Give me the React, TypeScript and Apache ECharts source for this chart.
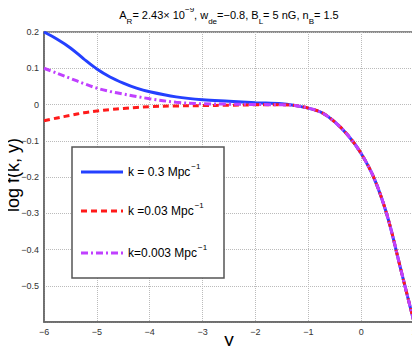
import React, { useEffect, useRef } from "react";
import * as echarts from "echarts";

const xs = [-6, -5.75, -5.5, -5.25, -5, -4.75, -4.5, -4.25, -4, -3.5, -3, -2.5, -2, -1.5, -1.25, -1, -0.75, -0.5, -0.25, 0, 0.25, 0.5, 0.75, 1];
const k03 = [0.2, 0.18, 0.156, 0.126, 0.098, 0.076, 0.059, 0.045, 0.035, 0.021, 0.013, 0.009, 0.005, 0.002, -0.003, -0.01, -0.022, -0.048, -0.085, -0.135, -0.205, -0.31, -0.455, -0.6];
const k003 = [-0.045, -0.037, -0.03, -0.023, -0.018, -0.014, -0.011, -0.008, -0.006, -0.004, -0.003, -0.002, -0.001, -0.001, -0.003, -0.01, -0.022, -0.048, -0.085, -0.135, -0.205, -0.31, -0.455, -0.6];
const k0003 = [0.1, 0.086, 0.072, 0.058, 0.045, 0.036, 0.029, 0.022, 0.016, 0.006, 0.002, 0.001, 0.0, -0.001, -0.003, -0.01, -0.022, -0.048, -0.085, -0.135, -0.205, -0.31, -0.455, -0.6];

const seriesNames = ["k = 0.3 Mpc", "k =0.03 Mpc", "k=0.003 Mpc"];
const colors = ["#2440ff", "#ff1a1a", "#c040ff"];
const xAxisTitle = "y";
const yAxisTitle = "log f(k, y)";

const FONT = "Liberation Sans";

function fmt(v: number): string {
  if (Math.abs(v) < 1e-9) return "0";
  const s = String(Math.round(v * 10) / 10);
  return s.replace("-", "\u2212");
}

export default function App() {
  const ref = useRef<HTMLDivElement>(null);
  useEffect(() => {
    if (!ref.current) return;
    const chart = echarts.init(ref.current, undefined, { renderer: "svg" });
    const pairs = (ys: number[]) => xs.map((x, i) => [x, ys[i]]);
    const legendY = [172, 211, 253];
    const dashes: any[] = ["solid", [6, 4], [7, 3, 2, 3]];
    const seriesData = [k03, k003, k0003];
    const legendRich = {
      t: { fontFamily: FONT, fontSize: 12, color: "#000", lineHeight: 20 },
      sup: { fontFamily: FONT, fontSize: 8, color: "#000", verticalAlign: "top", lineHeight: 10, padding: [0, 0, 0, 1] },
    };
    chart.setOption({
      animation: false,
      backgroundColor: "#fff",
      grid: {
        left: 44,
        right: 6,
        top: 32,
        bottom: 32,
        show: true,
        borderColor: "#666",
        borderWidth: 1.5,
        outerBoundsMode: "none",
        containLabel: false,
      },
      xAxis: {
        type: "value",
        min: -6,
        max: 1,
        interval: 1,
        axisLine: { show: true, onZero: false, lineStyle: { color: "#666", width: 1.5 } },
        axisTick: { show: false },
        axisLabel: { fontFamily: FONT, fontSize: 9, color: "#333", margin: 5, formatter: (v: number) => fmt(v) },
        splitLine: { show: true, lineStyle: { type: "dotted", color: "#bbb", width: 1 } },
      },
      yAxis: {
        type: "value",
        min: -0.6,
        max: 0.2,
        interval: 0.1,
        axisLine: { show: true, onZero: false, lineStyle: { color: "#666", width: 1.5 } },
        axisTick: { show: false },
        axisLabel: {
          fontFamily: FONT,
          fontSize: 9,
          color: "#333",
          margin: 5,
          formatter: (v: number) => (Math.abs(v + 0.6) < 1e-9 ? "" : fmt(v)),
        },
        splitLine: { show: true, lineStyle: { type: "dotted", color: "#bbb", width: 1 } },
      },
      series: seriesData.map((d, i) => ({
        type: "line",
        name: seriesNames[i],
        data: pairs(d),
        smooth: 0.35,
        showSymbol: false,
        lineStyle: { color: colors[i], width: 3, type: dashes[i], cap: "butt" },
        z: 2 + i,
      })),
      graphic: [
        {
          type: "text",
          x: 229,
          y: 15,
          style: {
            text: "{n|A}{sub|R}{n|= 2.43× 10}{sup|−9}{n|, w}{sub|de}{n|=−0.8, B}{sub|L}{n|= 5 nG, n}{sub|B}{n|= 1.5}",
            align: "center",
            verticalAlign: "middle",
            rich: {
              n: { fontFamily: FONT, fontSize: 11, color: "#000", lineHeight: 20 },
              sub: { fontFamily: FONT, fontSize: 8, color: "#000", verticalAlign: "bottom", lineHeight: 10 },
              sup: { fontFamily: FONT, fontSize: 8, color: "#000", verticalAlign: "top", lineHeight: 10 },
            },
          },
        },
        {
          type: "text",
          x: 229,
          y: 339,
          style: {
            text: xAxisTitle,
            align: "center",
            verticalAlign: "middle",
            font: `19px "${FONT}"`,
            fill: "#000",
          },
        },
        {
          type: "text",
          x: 13,
          y: 175,
          rotation: Math.PI / 2,
          style: {
            text: yAxisTitle,
            align: "center",
            verticalAlign: "middle",
            font: `18px "${FONT}"`,
            fill: "#000",
          },
        },
        {
          type: "rect",
          shape: { x: 72, y: 147, width: 152, height: 131 },
          style: { fill: "#fff", stroke: "#555", lineWidth: 1.5 },
          z: 10,
        },
        ...seriesNames.flatMap((nm, i) => [
          {
            type: "line",
            shape: { x1: 81, y1: legendY[i], x2: 123, y2: legendY[i] },
            style: { stroke: colors[i], lineWidth: 3, lineDash: dashes[i] === "solid" ? null : dashes[i] },
            z: 11,
          },
          {
            type: "text",
            x: 128,
            y: legendY[i],
            style: {
              text: `{t|${nm}}{sup|−1}`,
              verticalAlign: "middle",
              rich: legendRich,
            },
            z: 11,
          },
        ]),
      ],
    });
    return () => chart.dispose();
  }, []);
  return <div ref={ref} style={{ width: 420, height: 354, margin: -8 }} />;
}
